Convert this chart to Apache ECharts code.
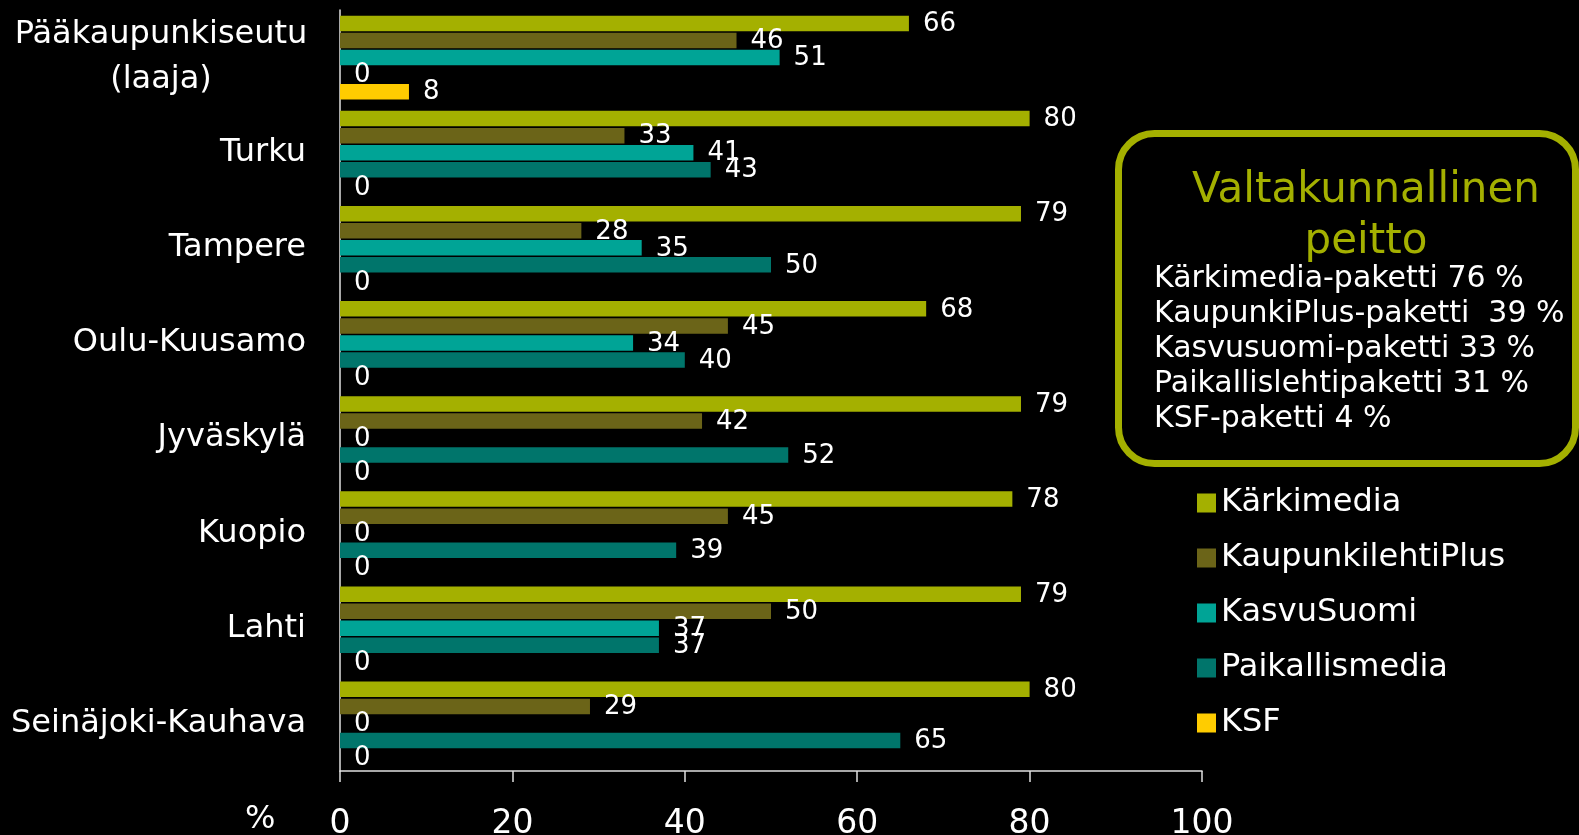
<!DOCTYPE html>
<html><head><meta charset="utf-8">
<script src="https://cdn.jsdelivr.net/npm/echarts@6/dist/echarts.min.js"></script>
<style>html,body{margin:0;padding:0;background:#000;}#c{width:1579px;height:835px;}</style>
</head><body><div id="c"></div>
<script>
const categories = ['Pääkaupunkiseutu\n(laaja)','Turku','Tampere','Oulu-Kuusamo','Jyväskylä','Kuopio','Lahti','Seinäjoki-Kauhava'];
const seriesNames = ['Kärkimedia','KaupunkilehtiPlus','KasvuSuomi','Paikallismedia','KSF'];
const karkimedia = [66,80,79,68,79,78,79,80];
const kaupunkilehtiPlus = [46,33,28,45,42,45,50,29];
const kasvuSuomi = [51,41,35,34,0,0,37,0];
const paikallismedia = [0,43,50,40,52,39,37,65];
const ksf = [8,0,0,0,0,0,0,0];
const xTicks = [0,20,40,60,80,100];
const axisUnit = '%';
const boxTitle = 'Valtakunnallinen\npeitto';
const boxLines = ['Kärkimedia-paketti 76 %','KaupunkiPlus-paketti  39 %','Kasvusuomi-paketti 33 %','Paikallislehtipaketti 31 %','KSF-paketti 4 %'];

const colors = ['#A4B000','#6B6418','#00A496','#00756B','#FFCC00'];
const FONT = '"DejaVu Sans", Verdana, sans-serif';
const seriesData = [karkimedia, kaupunkilehtiPlus, kasvuSuomi, paikallismedia, ksf];

const chart = echarts.init(document.getElementById('c'));
chart.setOption({
  backgroundColor: '#000',
  animation: false,
  textStyle: { fontFamily: FONT },
  grid: { left: 340, top: 10, right: 377, bottom: 64, containLabel: false, outerBoundsMode: 'none' },
  legend: {
    orient: 'vertical', left: 1192, top: 482,
    itemWidth: 19, itemHeight: 19, itemGap: 23,
    icon: 'rect',
    textStyle: { color: '#fff', fontSize: 32, fontFamily: FONT },
    data: seriesNames
  },
  xAxis: {
    type: 'value', min: xTicks[0], max: xTicks[xTicks.length-1], interval: xTicks[1]-xTicks[0],
    axisLine: { show: true, lineStyle: { color: '#e0e0e0', width: 1.5 } },
    axisTick: { show: true, length: 11, lineStyle: { color: '#e0e0e0', width: 1.5 } },
    splitLine: { show: false },
    axisLabel: { color: '#fff', fontSize: 33, fontFamily: FONT, margin: 37 }
  },
  yAxis: {
    type: 'category', data: categories, inverse: true,
    axisLine: { show: true, lineStyle: { color: '#e0e0e0', width: 1.5 } },
    axisTick: { show: false },
    axisLabel: {
      color: '#fff', fontSize: 32, fontFamily: FONT, margin: 34, lineHeight: 45,
      formatter: v => v.indexOf('\n') >= 0 ? v.split('\n').map(s => '{c|' + s + '}').join('\n') : v,
      rich: { c: { width: 290, align: 'center', fontSize: 32, lineHeight: 45, color: '#fff', fontFamily: FONT } }
    }
  },
  series: seriesNames.map((name, i) => ({
    name, type: 'bar', data: seriesData[i],
    barWidth: 15.5, barGap: '10%',
    itemStyle: { color: colors[i] },
    label: { show: true, position: 'right', distance: 14, color: '#fff', fontSize: 26, fontFamily: FONT, offset: [0, 1] }
  })),
  graphic: [
    { type: 'rect', shape: { x: 1118.5, y: 133.5, width: 457, height: 330, r: 36 },
      style: { fill: 'transparent', stroke: '#A4B000', lineWidth: 7 } },
    { type: 'text', x: 1366, y: 166, style: { text: boxTitle, fill: '#A4B000', font: '42px ' + FONT, textAlign: 'center', textVerticalAlign: 'top', lineHeight: 51 } },
    { type: 'text', x: 1154, y: 262, style: { text: boxLines.join('\n'), fill: '#fff', font: '30px ' + FONT, textAlign: 'left', textVerticalAlign: 'top', lineHeight: 35 } },
    { type: 'text', x: 245, y: 820, style: { text: axisUnit, fill: '#fff', font: '32px ' + FONT, textAlign: 'left', textVerticalAlign: 'middle' } }
  ]
});
</script></body></html>
